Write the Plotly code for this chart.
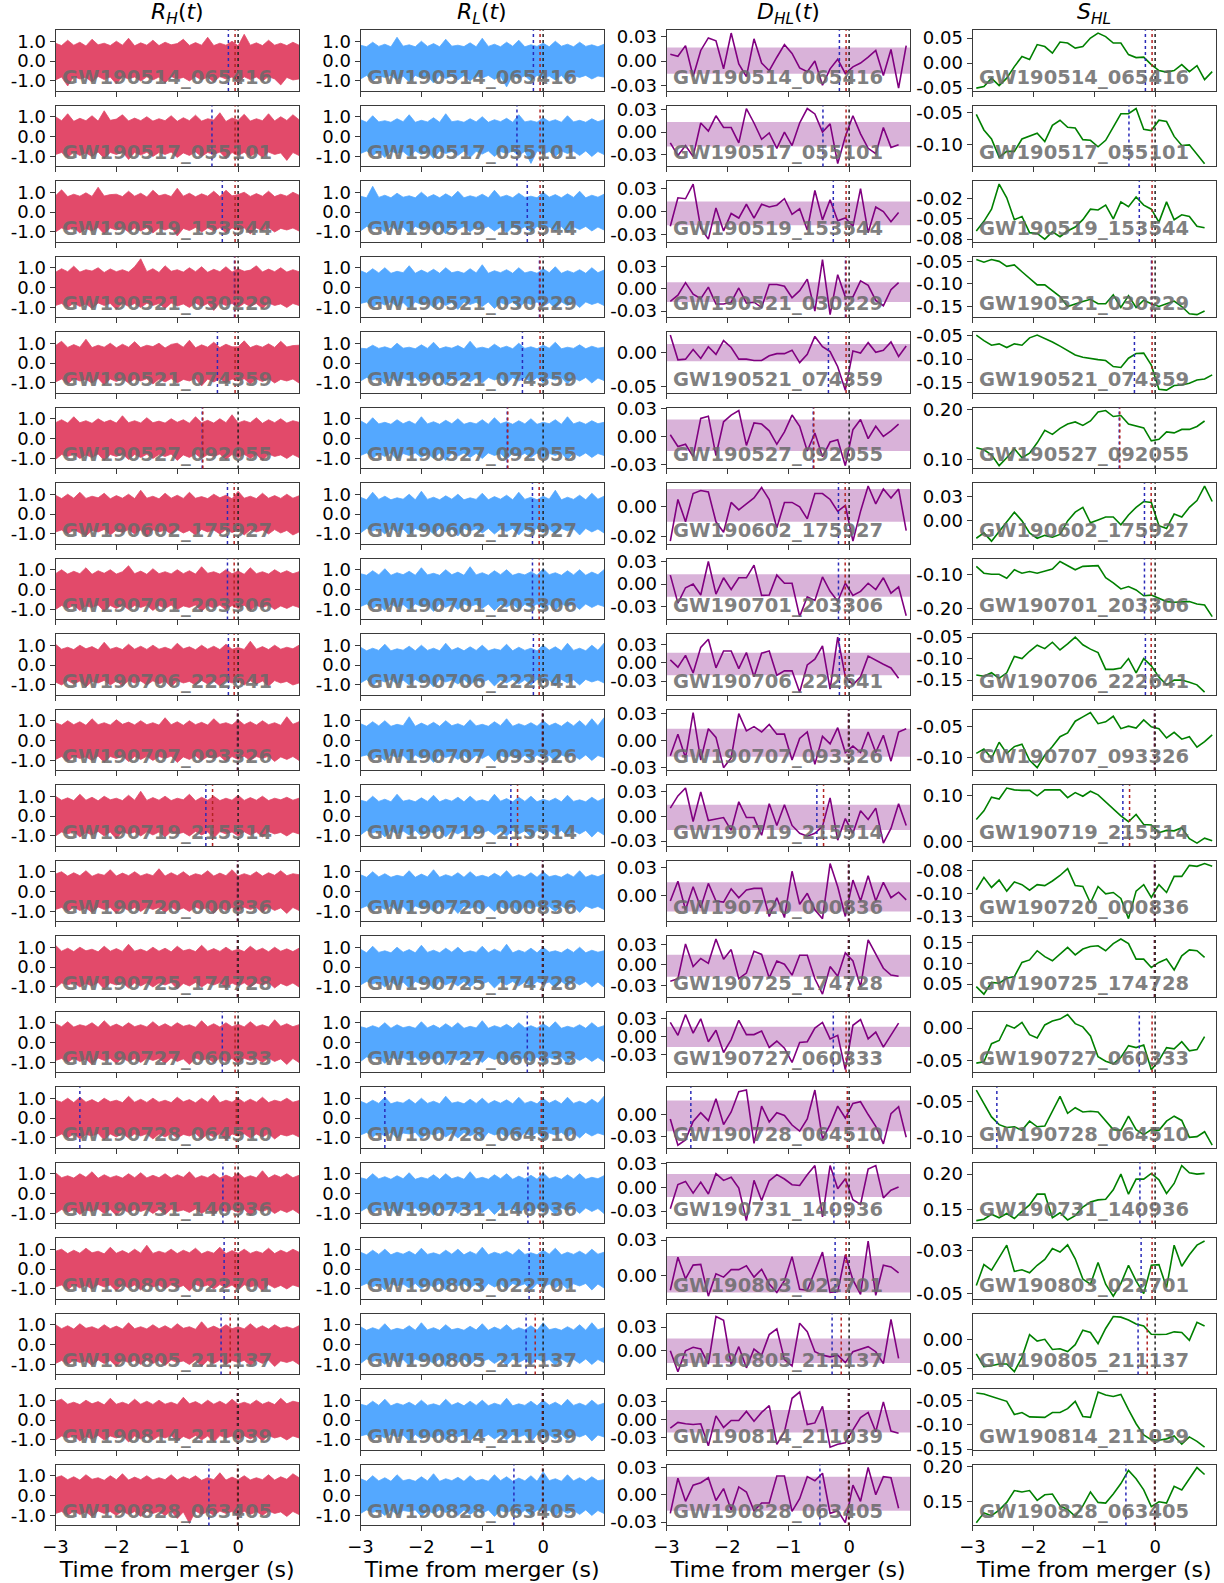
import plotly.graph_objects as go

# ---------------- data ----------------
EVENTS = ["GW190514_065416", "GW190517_055101", "GW190519_153544", "GW190521_030229",
          "GW190521_074359", "GW190527_092055", "GW190602_175927", "GW190701_203306",
          "GW190706_222641", "GW190707_093326", "GW190719_215514", "GW190720_000836",
          "GW190725_174728", "GW190727_060333", "GW190728_064510", "GW190731_140936",
          "GW190803_022701", "GW190805_211137", "GW190814_211039", "GW190828_063405"]

COL_TITLES = ["<i>R</i><sub><i>H</i></sub>(<i>t</i>)", "<i>R</i><sub><i>L</i></sub>(<i>t</i>)",
              "<i>D</i><sub><i>HL</i></sub>(<i>t</i>)", "<i>S</i><sub><i>HL</i></sub>"]
X_TITLE = "Time from merger (s)"
X_TICKS = [-3, -2, -1, 0]

# bin-centre times for D_HL and S_HL
T_BINS = [-2.9375, -2.8125, -2.6875, -2.5625, -2.4375, -2.3125, -2.1875, -2.0625,
          -1.9375, -1.8125, -1.6875, -1.5625, -1.4375, -1.3125, -1.1875, -1.0625,
          -0.9375, -0.8125, -0.6875, -0.5625, -0.4375, -0.3125, -0.1875, -0.0625,
          0.0625, 0.1875, 0.3125, 0.4375, 0.5625, 0.6875, 0.8125, 0.9375]

# marker times (s)
BLUE_T = [-0.16, -0.43, -0.26, -0.06, -0.34, -0.59, -0.175, -0.175, -0.16, -0.01,
          -0.53, -0.01, -0.01, -0.26, -2.6, -0.25, -0.23, -0.28, -0.01, -0.48]
RED_T = [-0.05, -0.05, -0.05, -0.05, -0.05, -0.58, -0.065, -0.065, -0.065, -0.01,
         -0.42, -0.01, -0.01, -0.05, -0.03, -0.05, -0.05, -0.13, -0.01, -0.01]
MERGER_T = 0.0

D_HL = [
    [0.007, 0.005, 0.016, -0.016, 0.011, 0.024, 0.021, -0.008, 0.029, -0.003, -0.016, 0.023, -0.002, -0.010, 0.004, 0.017, 0.008, -0.007, -0.011, 0.000, -0.025, -0.008, 0.002, -0.013, -0.006, -0.002, 0.004, 0.011, -0.015, 0.012, -0.028, 0.016],
    [-0.012, -0.026, -0.015, -0.027, 0.010, 0.001, 0.018, 0.005, 0.005, -0.012, 0.026, 0.010, -0.008, -0.001, -0.018, 0.000, -0.015, 0.010, 0.026, 0.020, 0.000, 0.009, -0.035, -0.005, 0.018, -0.002, -0.018, -0.024, 0.005, -0.017, -0.014],
    [-0.016, 0.015, 0.014, 0.030, -0.018, -0.030, 0.004, -0.021, -0.002, -0.007, 0.008, -0.007, 0.008, 0.005, 0.007, 0.014, -0.003, 0.003, -0.020, 0.023, -0.009, 0.013, -0.010, -0.007, -0.016, 0.025, -0.023, 0.005, 0.000, -0.011, -0.001],
    [-0.014, -0.007, 0.007, -0.006, -0.011, 0.002, -0.017, -0.017, -0.015, 0.001, -0.016, -0.015, -0.021, 0.005, 0.005, 0.003, -0.010, -0.002, 0.011, -0.025, 0.033, -0.029, 0.016, -0.009, -0.009, 0.009, 0.004, -0.013, -0.019, -0.001, 0.007],
    [0.025, -0.011, -0.010, 0.004, -0.009, 0.008, -0.003, 0.017, 0.007, -0.010, -0.010, -0.012, -0.012, -0.005, -0.002, -0.002, 0.003, -0.015, -0.003, 0.023, 0.008, 0.001, -0.021, -0.055, 0.002, -0.001, 0.014, 0.000, 0.003, 0.015, -0.006, 0.009],
    [0.0015, -0.009, -0.007, -0.018, 0.016, 0.018, -0.017, 0.013, 0.019, 0.023, -0.008, 0.012, 0.011, 0.005, -0.007, 0.004, 0.019, 0.009, -0.013, 0.003, -0.018, -0.005, -0.003, -0.026, 0.006, 0.015, -0.002, 0.009, 0.000, 0.005, 0.011],
    [-0.023, 0.005, -0.010, 0.009, 0.011, 0.010, -0.010, -0.017, 0.003, -0.002, 0.002, 0.006, 0.013, 0.005, -0.014, 0.003, 0.003, 0.000, -0.008, 0.009, 0.009, 0.005, -0.003, 0.001, -0.023, -0.003, 0.014, 0.002, 0.012, 0.006, 0.012, -0.016],
    [0.010, -0.021, -0.004, 0.000, -0.012, 0.025, -0.011, 0.007, -0.006, 0.007, 0.007, 0.021, -0.0125, -0.012, 0.010, 0.001, 0.001, -0.036, -0.014, -0.018, 0.008, -0.008, -0.019, 0.001, -0.0125, -0.008, 0.001, -0.006, 0.007, -0.010, -0.003, -0.035],
    [0.004, -0.006, 0.010, -0.014, 0.021, 0.032, -0.007, 0.016, 0.016, -0.008, 0.014, -0.019, 0.013, 0.016, -0.017, -0.011, -0.011, -0.040, -0.003, 0.005, 0.023, -0.036, 0.035, -0.019, -0.030, -0.019, 0.009, 0.003, -0.002, -0.007, -0.021],
    [-0.014, 0.006, -0.016, 0.026, -0.018, 0.011, 0.003, -0.025, -0.016, 0.025, 0.009, 0.013, 0.008, 0.015, 0.006, 0.006, -0.018, 0.002, 0.008, -0.022, 0.004, -0.003, 0.012, -0.011, -0.005, -0.011, 0.008, -0.011, 0.005, -0.019, 0.008, 0.011],
    [0.0086, 0.021, 0.029, -0.005, 0.025, -0.004, -0.0024, -0.001, -0.014, 0.015, -0.001, -0.001, -0.019, 0.013, -0.009, 0.012, -0.009, -0.017, -0.020, -0.017, -0.010, 0.019, -0.024, -0.002, -0.017, 0.006, -0.003, 0.0086, -0.027, -0.012, 0.013, -0.009],
    [-0.005, 0.013, -0.013, 0.008, -0.011, 0.011, -0.005, -0.006, 0.006, -0.002, 0.005, 0.0065, 0.0065, -0.019, -0.002, -0.020, 0.022, -0.008, 0.002, -0.013, -0.021, 0.029, 0.008, -0.019, 0.014, -0.005, 0.018, -0.005, 0.012, -0.002, 0.003, -0.004],
    [-0.020, -0.017, 0.026, -0.002, 0.008, 0.002, 0.032, 0.007, 0.019, -0.017, -0.010, 0.017, 0.013, -0.016, 0.005, 0.001, -0.0125, 0.012, 0.012, -0.017, -0.036, -0.002, -0.014, 0.015, 0.005, -0.027, 0.031, 0.014, -0.004, -0.0125, -0.014],
    [0.020, 0.002, 0.031, 0.005, 0.025, -0.007, 0.009, -0.022, -0.004, 0.023, 0.003, 0.003, 0.008, -0.015, -0.006, -0.016, -0.036, -0.008, -0.007, 0.012, 0.020, -0.003, 0.002, -0.046, 0.016, 0.024, -0.003, 0.0065, -0.0145, 0.002, 0.019],
    [-0.005, -0.035, -0.029, -0.008, 0.002, -0.007, 0.018, -0.0115, 0.003, 0.026, 0.028, -0.033, 0.0096, -0.0085, 0.002, -0.001, -0.012, -0.019, -0.005, 0.028, -0.028, -0.0115, 0.0096, -0.004, 0.0127, 0.0146, 0.000, -0.0135, -0.0335, 0.001, 0.009, -0.026],
    [-0.0225, 0.003, 0.0063, -0.006, 0.0056, -0.007, 0.0144, 0.0074, 0.0106, -0.0007, -0.035, 0.0074, -0.0137, 0.007, 0.0134, 0.0088, 0.0028, 0.002, 0.0134, 0.023, -0.031, 0.023, -0.0014, 0.0092, -0.013, -0.018, 0.0194, 0.023, -0.011, -0.003, 0.0004],
    [-0.0104, 0.0129, -0.0024, 0.0073, 0.0078, -0.0146, 0.0012, -0.0012, 0.0041, 0.0041, 0.0068, -0.0012, 0.0044, -0.006, -0.012, -0.0036, 0.0133, -0.0097, -0.0104, 0.0032, 0.0165, -0.012, -0.0114, 0.0146, -0.0032, -0.0133, 0.0243, -0.014, 0.0073, 0.006, 0.0019],
    [0.000, -0.022, 0.000, 0.0036, 0.0018, -0.014, 0.036, 0.032, -0.015, 0.0043, -0.018, 0.0018, -0.0046, 0.017, 0.023, -0.0093, -0.016, 0.029, 0.020, -0.001, -0.0046, -0.0064, -0.0046, -0.0125, -0.001, 0.0014, 0.0043, -0.001, -0.0136, 0.033, -0.008],
    [-0.012, -0.004, -0.006, -0.007, -0.006, -0.036, 0.0048, -0.011, -0.0014, -0.0014, 0.011, -0.0024, 0.0096, 0.019, -0.034, -0.017, 0.029, 0.0375, -0.007, -0.0048, 0.018, -0.038, -0.034, -0.032, -0.0144, 0.0024, 0.0096, -0.017, 0.024, -0.016, -0.019],
    [-0.017, 0.015, -0.006, 0.0087, 0.011, 0.0155, -0.0053, 0.0056, -0.014, 0.0071, 0.0025, -0.0146, -0.0075, -0.0075, 0.0171, 0.0171, -0.0152, -0.0037, 0.0165, 0.0127, 0.0196, -0.017, -0.0146, -0.0255, 0.0087, -0.006, 0.0248, 0.000, 0.0165, 0.0155, -0.0124],
]

BAND_HI = [0.014, 0.011, 0.011, 0.0074, 0.012, 0.015, 0.012, 0.011, 0.0135, 0.011,
           0.012, 0.012, 0.0125, 0.014, 0.016, 0.014, 0.0138, 0.013, 0.013, 0.0165]
BAND_LO = [-0.013, -0.016, -0.015, -0.0148, -0.013, -0.013, -0.010, -0.014, -0.017, -0.015,
           -0.0137, -0.0145, -0.0146, -0.0145, -0.019, -0.010, -0.012, -0.013, -0.0178, -0.0146]

S_HL = [
    [-0.050, -0.047, -0.030, -0.045, -0.030, -0.007, 0.013, 0.007, 0.037, 0.033, 0.020, 0.042, 0.040, 0.030, 0.033, 0.050, 0.060, 0.053, 0.040, 0.040, 0.017, 0.011, 0.012, -0.003, -0.015, -0.018, -0.015, -0.003, -0.017, -0.005, -0.033, -0.017],
    [-0.053, -0.077, -0.091, -0.119, -0.110, -0.110, -0.091, -0.087, -0.082, -0.095, -0.070, -0.062, -0.073, -0.074, -0.092, -0.093, -0.103, -0.093, -0.072, -0.052, -0.052, -0.044, -0.076, -0.078, -0.062, -0.064, -0.087, -0.101, -0.100, -0.114, -0.129],
    [-0.065, -0.053, -0.038, -0.007, -0.024, -0.051, -0.047, -0.067, -0.068, -0.075, -0.066, -0.072, -0.065, -0.060, -0.051, -0.038, -0.039, -0.033, -0.050, -0.029, -0.035, -0.023, -0.033, -0.038, -0.054, -0.029, -0.051, -0.045, -0.047, -0.059, -0.061],
    [-0.046, -0.052, -0.046, -0.050, -0.061, -0.058, -0.073, -0.087, -0.102, -0.102, -0.115, -0.128, -0.150, -0.144, -0.139, -0.134, -0.144, -0.144, -0.124, -0.152, -0.126, -0.152, -0.136, -0.144, -0.150, -0.144, -0.138, -0.150, -0.166, -0.168, -0.160],
    [-0.048, -0.060, -0.070, -0.067, -0.075, -0.067, -0.070, -0.054, -0.048, -0.055, -0.063, -0.072, -0.081, -0.091, -0.096, -0.099, -0.101, -0.103, -0.116, -0.118, -0.098, -0.088, -0.087, -0.113, -0.165, -0.167, -0.157, -0.156, -0.152, -0.145, -0.143, -0.134],
    [0.123, 0.119, 0.109, 0.087, 0.103, 0.121, 0.103, 0.112, 0.133, 0.158, 0.150, 0.162, 0.171, 0.175, 0.168, 0.177, 0.195, 0.198, 0.186, 0.188, 0.171, 0.167, 0.163, 0.137, 0.140, 0.155, 0.153, 0.160, 0.160, 0.166, 0.177],
    [-0.018, -0.0125, -0.021, -0.011, -0.002, 0.009, 0.000, -0.0125, -0.018, -0.015, -0.017, -0.014, 0.000, 0.009, 0.014, -0.002, 0.001, 0.004, 0.004, -0.004, 0.006, 0.014, 0.020, 0.019, -0.005, -0.008, 0.007, 0.004, 0.014, 0.021, 0.036, 0.020],
    [-0.077, -0.097, -0.100, -0.100, -0.112, -0.087, -0.097, -0.092, -0.097, -0.090, -0.085, -0.063, -0.075, -0.087, -0.077, -0.077, -0.075, -0.110, -0.125, -0.143, -0.136, -0.146, -0.163, -0.161, -0.171, -0.180, -0.182, -0.182, -0.180, -0.187, -0.190, -0.224],
    [-0.138, -0.141, -0.133, -0.146, -0.133, -0.095, -0.100, -0.083, -0.069, -0.077, -0.062, -0.080, -0.066, -0.050, -0.068, -0.078, -0.086, -0.125, -0.125, -0.122, -0.100, -0.133, -0.100, -0.117, -0.143, -0.161, -0.150, -0.150, -0.155, -0.161, -0.178],
    [-0.093, -0.086, -0.101, -0.075, -0.093, -0.082, -0.078, -0.104, -0.116, -0.096, -0.082, -0.066, -0.060, -0.041, -0.034, -0.027, -0.045, -0.042, -0.033, -0.053, -0.049, -0.052, -0.039, -0.050, -0.053, -0.068, -0.059, -0.070, -0.066, -0.083, -0.074, -0.063],
    [0.048, 0.067, 0.097, 0.093, 0.117, 0.113, 0.112, 0.112, 0.100, 0.113, 0.113, 0.113, 0.096, 0.107, 0.099, 0.110, 0.102, 0.087, 0.070, 0.056, 0.043, 0.059, 0.037, 0.036, 0.019, 0.024, 0.023, 0.030, 0.006, -0.004, 0.007, 0.001],
    [-0.0955, -0.082, -0.093, -0.085, -0.097, -0.087, -0.090, -0.096, -0.090, -0.091, -0.086, -0.080, -0.0725, -0.091, -0.092, -0.110, -0.092, -0.100, -0.0985, -0.105, -0.127, -0.097, -0.090, -0.104, -0.090, -0.0985, -0.081, -0.081, -0.069, -0.070, -0.067, -0.070],
    [0.044, 0.026, 0.054, 0.052, 0.064, 0.068, 0.102, 0.108, 0.130, 0.116, 0.106, 0.122, 0.138, 0.120, 0.134, 0.140, 0.142, 0.130, 0.147, 0.158, 0.147, 0.110, 0.110, 0.090, 0.102, 0.110, 0.084, 0.118, 0.132, 0.130, 0.114],
    [-0.054, -0.052, -0.024, -0.019, 0.005, 0.000, 0.009, -0.010, -0.015, 0.005, 0.011, 0.014, 0.021, 0.007, 0.002, -0.012, -0.044, -0.051, -0.055, -0.045, -0.027, -0.030, -0.026, -0.064, -0.050, -0.030, -0.032, -0.021, -0.035, -0.033, -0.013],
    [-0.034, -0.053, -0.072, -0.083, -0.087, -0.086, -0.091, -0.078, -0.086, -0.085, -0.065, -0.043, -0.067, -0.059, -0.065, -0.064, -0.065, -0.077, -0.090, -0.091, -0.071, -0.090, -0.097, -0.090, -0.091, -0.078, -0.071, -0.077, -0.101, -0.100, -0.093, -0.112],
    [0.135, 0.137, 0.144, 0.139, 0.145, 0.138, 0.148, 0.157, 0.172, 0.172, 0.139, 0.146, 0.136, 0.142, 0.154, 0.161, 0.164, 0.165, 0.178, 0.200, 0.172, 0.193, 0.193, 0.201, 0.192, 0.173, 0.187, 0.212, 0.202, 0.200, 0.201],
    [-0.0453, -0.033, -0.0362, -0.0286, -0.0216, -0.037, -0.036, -0.0378, -0.0334, -0.030, -0.0236, -0.0256, -0.0214, -0.0296, -0.0415, -0.0445, -0.0318, -0.0445, -0.0515, -0.0441, -0.0334, -0.0425, -0.050, -0.0334, -0.033, -0.0465, -0.0216, -0.034, -0.0272, -0.0216, -0.0192],
    [-0.025, -0.047, -0.0453, -0.0424, -0.0424, -0.0555, -0.031, 0.0081, -0.003, 0.000, -0.0174, -0.0163, -0.021, -0.0093, 0.0157, 0.0116, -0.0076, 0.0186, 0.039, 0.038, 0.0331, 0.0262, 0.0227, 0.0087, 0.0081, 0.0087, 0.0128, 0.0116, -0.0017, 0.029, 0.0227],
    [-0.035, -0.037, -0.042, -0.047, -0.052, -0.079, -0.075, -0.084, -0.085, -0.085, -0.075, -0.075, -0.067, -0.052, -0.083, -0.085, -0.033, -0.039, -0.042, -0.038, -0.069, -0.098, -0.121, -0.131, -0.132, -0.129, -0.123, -0.140, -0.125, -0.134, -0.146],
    [0.120, 0.134, 0.130, 0.138, 0.149, 0.166, 0.164, 0.166, 0.152, 0.160, 0.161, 0.144, 0.139, 0.129, 0.144, 0.164, 0.149, 0.148, 0.161, 0.176, 0.195, 0.183, 0.167, 0.143, 0.150, 0.148, 0.172, 0.167, 0.183, 0.199, 0.189],
]

# y tick positions and their printed labels
NOISE_TICKS = [1.0, 0.0, -1.0]
NOISE_TICKTEXT = ["1.0", "0.0", "-1.0"]
D_TICKS = [[0.025, 0, -0.025]] * 4 + [[0, -0.05], [0.025, 0, -0.025], [0, -0.02]] + \
          [[0.025, 0, -0.025]] * 4 + [[0.025, 0], [0.025, 0, -0.025], [0.025, 0, -0.025],
                                      [0, -0.025], [0.025, 0, -0.025], [0.025, 0], [0.025, 0],
                                      [0.025, 0, -0.025], [0.025, 0, -0.025]]
D_TICKTEXT = [["0.03", "0.00", "-0.03"]] * 4 + [["0.00", "-0.05"], ["0.03", "0.00", "-0.03"], ["0.00", "-0.02"]] + \
             [["0.03", "0.00", "-0.03"]] * 4 + [["0.03", "0.00"], ["0.03", "0.00", "-0.03"], ["0.03", "0.00", "-0.03"],
                                                ["0.00", "-0.03"], ["0.03", "0.00", "-0.03"], ["0.03", "0.00"], ["0.03", "0.00"],
                                                ["0.03", "0.00", "-0.03"], ["0.03", "0.00", "-0.03"]]
S_TICKS = [[0.05, 0, -0.05], [-0.05, -0.10], [-0.025, -0.05, -0.075], [-0.05, -0.10, -0.15],
           [-0.05, -0.10, -0.15], [0.20, 0.10], [0.025, 0], [-0.10, -0.20], [-0.05, -0.10, -0.15],
           [-0.05, -0.10], [0.10, 0.0], [-0.075, -0.10, -0.125], [0.15, 0.10, 0.05], [0, -0.05],
           [-0.05, -0.10], [0.20, 0.15], [-0.025, -0.05], [0, -0.05], [-0.05, -0.10, -0.15], [0.20, 0.15]]
S_TICKTEXT = [["0.05", "0.00", "-0.05"], ["-0.05", "-0.10"], ["-0.02", "-0.05", "-0.08"], ["-0.05", "-0.10", "-0.15"],
              ["-0.05", "-0.10", "-0.15"], ["0.20", "0.10"], ["0.03", "0.00"], ["-0.10", "-0.20"], ["-0.05", "-0.10", "-0.15"],
              ["-0.05", "-0.10"], ["0.10", "0.00"], ["-0.08", "-0.10", "-0.13"], ["0.15", "0.10", "0.05"], ["0.00", "-0.05"],
              ["-0.05", "-0.10"], ["0.20", "0.15"], ["-0.03", "-0.05"], ["0.00", "-0.05"], ["-0.05", "-0.10", "-0.15"], ["0.20", "0.15"]]

# whitened-strain envelopes (upper / lower edge of the dense trace), sampled every 0.1 s
ENV_T = [-3.0, -2.9, -2.8, -2.7, -2.6, -2.5, -2.4, -2.3, -2.2, -2.1, -2.0, -1.9, -1.8, -1.7,
         -1.6, -1.5, -1.4, -1.3, -1.2, -1.1, -1.0, -0.9, -0.8, -0.7, -0.6, -0.5, -0.4, -0.3,
         -0.2, -0.1, 0.0, 0.1, 0.2, 0.3, 0.4, 0.5, 0.6, 0.7, 0.8, 0.9, 1.0]

RH_UP = [
    [.9, .78, 1.05, .8, .95, .76, 1.1, .82, .9, .78, 1.0, .8, 1.15, .77, .92, .8, 1.05, .78, .95, .82, .88, 1.1, .79, .93, .8, 1.2, .78, .9, .8, 1.0, .77, 1.35, .8, .92, .78, 1.05, .8, .9, .78, .95, .8],
    [1.0, .8, 1.15, .77, .92, .8, 1.05, .78, 1.3, .82, .88, 1.1, .79, .93, .8, 1.0, .78, .9, .8, 1.05, .77, .95, .8, 1.08, .78, .9, .83, 1.2, .76, .94, .82, 1.12, .78, .9, .8, 1.15, .79, 1.0, .81, 1.1, .85],
    [.82, 1.12, .78, .9, .8, .97, .79, 1.25, .81, .88, .9, .78, 1.05, .8, .95, .76, 1.1, .82, .9, .78, 1.2, .8, .95, .77, .92, .8, 1.05, .78, 1.1, .82, .88, 1.0, .79, .93, .8, 1.05, .78, .9, .8, 1.0, .85],
    [.77, .95, .8, 1.08, .78, .9, .83, 1.0, .76, .94, .8, .9, .78, 1.05, 1.45, .8, .95, .76, 1.1, .82, .9, .78, 1.0, .8, 1.05, .77, .92, .8, 1.05, .78, .95, .82, .88, 1.1, .79, .93, .8, 1.0, .78, .9, .8],
    [.88, 1.1, .79, .93, .8, 1.2, .78, .9, .8, 1.0, .77, .95, .8, 1.08, .78, .9, .83, 1.0, .76, .94, 1.0, .8, 1.15, .77, .92, .8, 1.05, .78, .95, .82, .82, 1.12, .78, .9, .8, .97, .79, 1.1, .81, .88, .9],
    [.8, .95, .78, 1.1, .8, .9, .77, 1.0, .82, .93, .78, 1.15, .8, .9, .79, 1.05, .8, .88, .78, 1.0, .82, .95, .77, 1.1, .8, .92, .78, 1.0, .8, 1.2, .79, .9, .8, 1.05, .77, .95, .8, 1.0, .78, .9, .82],
    [.95, .78, 1.0, .8, 1.1, .79, .9, .82, 1.05, .77, .93, .8, 1.0, .78, 1.2, .8, .9, .77, 1.05, .8, .95, .79, 1.1, .8, .88, .78, 1.0, .82, .95, .77, 1.15, .8, .9, .78, 1.05, .8, .93, .79, 1.0, .8, .92],
    [.8, 1.0, .78, .92, .8, 1.1, .77, .95, .82, 1.0, .78, .9, 1.2, .8, .93, .77, 1.05, .8, .9, .79, 1.0, .8, .95, .78, 1.15, .82, .9, .78, 1.0, .8, .93, .77, 1.1, .8, .9, .78, 1.0, .82, .95, .8, .9],
    [1.05, .8, .9, .78, 1.0, .82, .93, .77, 1.15, .8, .9, .78, 1.05, .8, .95, .79, 1.0, .8, .9, .78, 1.1, .82, .92, .77, 1.0, .8, .95, .78, 1.05, .8, .88, .79, 1.2, .8, .93, .78, 1.0, .8, .9, .82, 1.0],
    [.9, .78, 1.0, .8, .95, .77, 1.1, .8, .9, .78, 1.05, .82, .93, .79, 1.0, .8, .9, .78, 1.15, .8, .95, .77, 1.0, .8, .92, .78, 1.1, .82, .9, .79, 1.05, .8, .95, .78, 1.0, .8, .9, .77, 1.2, .82, .95],
    [1.0, .8, .92, .78, 1.1, .8, .95, .77, 1.0, .82, .9, .78, 1.05, .8, 1.25, .79, .93, .8, 1.0, .78, .9, .82, 1.1, .77, .95, .8, 1.0, .78, .9, .8, 1.05, .79, .93, .8, 1.0, .78, .9, .82, .95, .8, .9],
    [.88, 1.0, .78, .95, .8, 1.05, .77, .9, .82, 1.1, .78, .93, .8, 1.0, .79, .9, .8, 1.15, .78, .95, .8, 1.0, .77, .9, .82, 1.05, .78, .93, .8, 1.1, .79, .9, .8, 1.0, .78, .95, .82, 1.05, .8, .9, .85],
    [1.1, .8, .95, .78, 1.0, .82, .9, .77, 1.05, .8, .93, .79, 1.15, .8, .9, .78, 1.0, .8, .95, .77, 1.05, .82, .9, .78, 1.1, .8, .93, .79, 1.0, .8, .9, .78, 1.05, .82, .95, .77, 1.0, .8, .92, .78, .95],
    [.95, .8, 1.05, .78, .9, .82, 1.0, .77, 1.1, .8, .93, .78, 1.0, .8, .9, .79, 1.05, .8, .95, .78, 1.0, .82, .9, .77, 1.1, .8, .95, .78, 1.0, .8, .92, .79, 1.05, .8, .9, .78, 1.15, .82, .95, .8, .9],
    [.9, .8, 1.0, .78, 1.05, .8, .93, .77, 1.0, .82, .9, .78, 1.1, .8, .95, .79, 1.0, .8, .9, .78, 1.05, .82, .93, .77, 1.0, .8, 1.15, .78, .9, .8, 1.0, .79, .95, .8, 1.05, .78, .9, .82, 1.0, .8, .88],
    [1.05, .8, .9, .78, 1.0, .82, 1.1, .77, .95, .8, .9, .78, 1.0, .8, 1.05, .79, .92, .8, 1.0, .78, .95, .82, 1.1, .77, .9, .8, 1.0, .78, .93, .8, 1.05, .79, .9, .8, 1.15, .78, .95, .82, 1.0, .8, .92],
    [.9, 1.0, .78, .95, .8, 1.05, .82, .9, .77, 1.1, .8, .93, .78, 1.0, .8, 1.2, .79, .9, .8, 1.0, .78, .95, .82, 1.05, .77, .9, .8, 1.1, .78, .93, .8, 1.0, .79, .9, .8, 1.05, .78, .95, .82, 1.0, .85],
    [1.0, .8, .95, .78, 1.05, .82, .9, .77, 1.0, .8, .93, .78, 1.1, .8, .9, .79, 1.0, .8, .95, .78, 1.05, .82, .9, .77, 1.15, .8, .93, .78, 1.0, .8, .9, .79, 1.05, .8, .95, .78, 1.0, .82, .9, .8, .95],
    [.95, 1.05, .8, .9, .78, 1.0, .82, .93, .77, 1.1, .8, .9, .78, 1.05, .8, .95, .79, 1.0, .8, .9, .78, 1.15, .82, .93, .77, 1.0, .8, .95, .78, 1.05, .8, .9, .79, 1.0, .8, .92, .78, 1.1, .82, .95, .88],
    [.9, 1.0, .8, .95, .78, 1.05, .82, .9, .77, 1.0, .8, 1.1, .78, .93, .8, 1.0, .79, .9, .8, 1.05, .78, .95, .82, 1.0, .77, .9, .8, 1.15, .78, .93, .8, 1.0, .79, .9, .8, 1.05, .78, .95, .82, 1.1, .9],
]
RH_LO = [
    [-.95, -.8, -1.25, -.78, -.9, -.82, -1.05, -.77, -.93, -.8, -1.15, -.78, -.9, -.8, -1.0, -.79, -.95, -.8, -1.1, -.78, -.9, -.82, -1.0, -.77, -.95, -.8, -1.05, -.78, -.9, -.8, -1.1, -.79, -.93, -.8, -1.0, -.78, -.9, -1.2, -.82, -.95, -.9],
    [-.9, -.8, -1.05, -.78, -.95, -.82, -1.0, -.77, -1.1, -.8, -.9, -.78, -1.15, -.8, -.93, -.79, -1.0, -.8, -.9, -.78, -1.05, -.82, -.95, -.77, -1.0, -.8, -.9, -.78, -1.1, -.8, -.95, -.79, -1.0, -.8, -1.05, -.78, -.9, -.82, -1.2, -.8, -.95],
    [-1.0, -.8, -.9, -.78, -1.05, -.82, -.95, -.77, -1.1, -.8, -.9, -.78, -1.0, -.8, -.95, -.79, -1.05, -.8, -.9, -.78, -1.2, -.82, -.93, -.77, -1.0, -.8, -.95, -.78, -1.05, -.8, -.9, -.79, -1.1, -.8, -.93, -.78, -1.0, -.82, -.9, -.8, -.95],
    [-.9, -.8, -1.0, -.78, -.95, -.82, -1.05, -.77, -.9, -.8, -1.1, -.78, -.95, -.8, -1.0, -.79, -.9, -.8, -1.05, -.78, -.93, -.82, -1.0, -.77, -.95, -.8, -1.15, -.78, -.9, -.8, -1.0, -.79, -.95, -.8, -1.05, -.78, -.9, -.82, -1.0, -.8, -.9],
    [-.95, -.8, -1.05, -.78, -.9, -.82, -1.0, -.77, -1.1, -.8, -.93, -.78, -1.0, -.8, -.9, -.79, -1.05, -.8, -.95, -.78, -1.0, -.82, -.9, -.77, -1.15, -.8, -.95, -.78, -1.0, -.8, -.9, -.79, -1.05, -.8, -.93, -.78, -1.0, -.82, -.9, -.8, -1.0],
    [-1.05, -.8, -.9, -.78, -1.0, -.82, -.95, -.77, -1.1, -.8, -.9, -.78, -1.05, -.8, -.95, -.79, -1.0, -.8, -.9, -.78, -1.1, -.82, -.95, -.77, -1.0, -.8, -.9, -.78, -1.05, -.8, -.95, -.79, -1.0, -.8, -1.1, -.78, -.9, -.82, -1.0, -.8, -.95],
    [-.9, -.8, -1.0, -.78, -.95, -1.1, -.82, -.9, -.77, -1.05, -.8, -.93, -.78, -1.0, -.8, -1.15, -.79, -.9, -.8, -1.0, -.78, -.95, -.82, -1.05, -.77, -.9, -.8, -1.0, -.78, -.93, -.8, -1.05, -.79, -.9, -.8, -1.0, -.78, -.95, -.82, -1.05, -.9],
    [-1.0, -.8, -.95, -.78, -1.05, -.82, -.9, -.77, -1.1, -.8, -.95, -.78, -1.0, -.8, -.9, -.79, -1.05, -.8, -.95, -.78, -1.0, -.82, -.9, -.77, -1.1, -.8, -.93, -.78, -1.0, -.8, -.95, -.79, -1.05, -.8, -.9, -.78, -1.0, -.82, -.95, -.8, -.9],
    [-.85, -1.0, -.78, -.95, -.8, -1.1, -.82, -.9, -.77, -1.0, -.8, -1.05, -.78, -.9, -.8, -1.0, -.79, -.95, -.8, -1.1, -.78, -.9, -.82, -1.0, -.77, -.95, -.8, -1.05, -.78, -.9, -.8, -1.0, -.79, -.95, -.8, -1.05, -.78, -.9, -.82, -1.0, -.9],
    [-.95, -.8, -1.05, -.78, -.9, -.82, -1.0, -.77, -1.1, -.8, -.9, -.78, -1.05, -.8, -.95, -.79, -1.0, -.8, -.9, -.78, -1.1, -.82, -.95, -.77, -1.0, -.8, -.9, -.78, -1.05, -.8, -.95, -.79, -1.0, -.8, -.9, -.78, -1.05, -.82, -.95, -.8, -1.0],
    [-1.0, -.8, -.9, -.78, -1.05, -.82, -.95, -.77, -1.0, -.8, -1.15, -.78, -.9, -.8, -1.0, -.79, -.95, -.8, -1.05, -.78, -.9, -.82, -1.0, -.77, -.95, -.8, -1.1, -.78, -.9, -.8, -1.0, -.79, -.95, -.8, -1.05, -.78, -.9, -.82, -1.0, -.8, -.9],
    [-.9, -.8, -1.0, -.78, -.95, -.82, -1.05, -.77, -.9, -.8, -1.1, -.78, -.95, -.8, -1.0, -.79, -.9, -.8, -1.05, -.78, -.95, -.82, -1.0, -.77, -.9, -.8, -1.1, -.78, -.95, -.8, -1.0, -.79, -.9, -.8, -1.05, -.78, -.95, -.82, -1.1, -.8, -.95],
    [-1.05, -.8, -.9, -.78, -1.0, -.82, -.95, -.77, -1.1, -.8, -.9, -.78, -1.05, -.8, -.95, -.79, -1.0, -.8, -.9, -.78, -1.1, -.82, -.95, -.77, -1.0, -.8, -.9, -.78, -1.05, -.8, -.95, -.79, -1.0, -.8, -.9, -.78, -1.05, -.82, -.95, -.8, -1.0],
    [-.9, -.8, -1.0, -.78, -.95, -.82, -1.1, -.77, -.9, -.8, -1.05, -.78, -.95, -.8, -1.0, -.79, -.9, -.8, -1.05, -.78, -.95, -.82, -1.1, -.77, -.9, -.8, -1.0, -.78, -.95, -.8, -1.05, -.79, -.9, -.8, -1.0, -.78, -.95, -.82, -1.1, -.8, -1.0],
    [-.95, -.8, -1.0, -.78, -1.05, -.82, -.9, -.77, -1.1, -.8, -.95, -.78, -1.0, -.8, -.9, -.79, -1.05, -.8, -.95, -.78, -1.0, -.82, -.9, -.77, -1.05, -.8, -.95, -.78, -1.1, -.8, -.9, -.79, -1.0, -.8, -.95, -.78, -1.05, -.82, -.9, -.8, -.95],
    [-1.0, -.8, -.95, -.78, -1.05, -.82, -.9, -.77, -1.0, -.8, -1.1, -.78, -.95, -.8, -.9, -.79, -1.0, -.8, -1.05, -.78, -.9, -.82, -.95, -.77, -1.0, -.8, -1.05, -.78, -.9, -.8, -.95, -.79, -1.1, -.8, -.9, -.78, -1.0, -.82, -.95, -.8, -1.0],
    [-.9, -.8, -1.05, -.78, -.95, -.82, -1.0, -.77, -.9, -.8, -1.1, -.78, -.95, -.8, -1.05, -.79, -.9, -.8, -1.0, -.78, -.95, -.82, -1.1, -.77, -.9, -.8, -1.0, -.78, -.95, -.8, -1.05, -.79, -.9, -.8, -1.1, -.78, -.95, -.82, -1.0, -.8, -.9],
    [-.95, -.8, -1.0, -.78, -.9, -.82, -1.05, -.77, -.95, -.8, -1.1, -.78, -.9, -.8, -1.0, -.79, -.95, -.8, -1.05, -.78, -.9, -.82, -1.0, -.77, -1.1, -.8, -.95, -.78, -1.0, -.8, -.9, -.79, -1.05, -.8, -.95, -.78, -1.1, -.82, -.9, -.8, -1.0],
    [-1.0, -.8, -.9, -.78, -1.05, -.82, -.95, -.77, -1.0, -.8, -.9, -.78, -1.1, -.8, -.95, -.79, -1.0, -.8, -.9, -.78, -1.05, -.82, -.95, -.77, -1.0, -.8, -1.1, -.78, -.9, -.8, -1.0, -.79, -.95, -.8, -1.05, -.78, -.9, -.82, -1.0, -.8, -.9],
    [-.9, -.8, -1.0, -.78, -.95, -.82, -1.05, -.77, -.9, -.8, -1.0, -.78, -.95, -.8, -1.05, -.79, -.9, -.8, -1.0, -.78, -1.15, -.82, -1.4, -.77, -.95, -.8, -1.0, -.78, -.9, -.8, -1.05, -.79, -.95, -.8, -1.0, -.78, -.9, -.82, -1.05, -.8, -.95],
]
RL_UP = [
    [.8, .72, .95, .74, .85, .72, 1.2, .75, .82, .72, 1.0, .74, .88, .72, 1.1, .75, .8, .73, .92, .72, 1.15, .74, .85, .72, .95, .75, 1.05, .72, .82, .74, .9, .72, 1.0, .75, .85, .72, .95, .74, .82, .72, .85],
    [.85, .72, 1.05, .74, .8, .72, .9, .75, 1.1, .72, .82, .74, .95, .72, 1.15, .75, .8, .72, .9, .74, 1.0, .72, .85, .75, .92, .72, 1.1, .74, .8, .72, .95, .75, .85, .72, 1.05, .74, .82, .72, .9, .75, .85],
    [.8, .72, 1.3, .74, .85, .72, .95, .75, .82, .72, 1.0, .74, .88, .72, .92, .75, 1.05, .72, .82, .74, .9, .72, 1.1, .75, .85, .72, .95, .74, .8, .72, 1.0, .75, .88, .72, .92, .74, 1.05, .72, .85, .75, .9],
    [.85, .72, .95, .74, 1.0, .72, .82, .75, 1.1, .72, .88, .74, .92, .72, 1.0, .75, .82, .72, .95, .74, 1.15, .72, .85, .75, .9, .72, 1.0, .74, .82, .72, .95, .75, 1.05, .72, .85, .74, .9, .72, 1.0, .75, .88],
    [.75, .72, .9, .74, .82, .72, 1.0, .75, .8, .72, .92, .74, 1.05, .72, .82, .75, .88, .72, 1.1, .74, .8, .72, .95, .75, .85, .72, 1.0, .74, .82, .72, .9, .75, 1.05, .72, .8, .74, .92, .72, .85, .75, .8],
    [.9, .72, 1.05, .74, .82, .72, .95, .75, .88, .72, 1.1, .74, .85, .72, .92, .75, 1.0, .72, .82, .74, .95, .72, 1.05, .75, .85, .72, .9, .74, 1.0, .72, .82, .75, .95, .72, 1.1, .74, .85, .72, .9, .75, .82],
    [.85, .72, 1.1, .74, .9, .72, .82, .75, 1.0, .72, 1.15, .74, .85, .72, .92, .75, 1.0, .72, .82, .74, 1.05, .72, .88, .75, .95, .72, 1.1, .74, .85, .72, .9, .75, 1.2, .72, .85, .74, .95, .72, 1.05, .75, .9],
    [.8, .72, .95, .74, 1.05, .72, .85, .75, .92, .72, 1.1, .74, .82, .72, 1.0, .75, .88, .72, 1.15, .74, .85, .72, .95, .75, 1.0, .72, .82, .74, .9, .72, 1.05, .75, .85, .72, .95, .74, 1.0, .72, .88, .75, 1.0],
    [.9, .72, .85, .74, 1.05, .72, .82, .75, .95, .72, 1.0, .74, .85, .72, 1.1, .75, .88, .72, .92, .74, 1.0, .72, .82, .75, 1.05, .72, .9, .74, .85, .72, 1.0, .75, .92, .72, 1.1, .74, .85, .72, 1.0, .75, 1.1],
    [.85, .72, .95, .74, 1.0, .72, .82, .75, 1.2, .72, .88, .74, .92, .72, 1.0, .75, .85, .72, 1.05, .74, .82, .72, .95, .75, 1.1, .72, .85, .74, .9, .72, 1.0, .75, .88, .72, .95, .74, 1.0, .72, 1.1, .75, 1.15],
    [.8, .72, 1.0, .74, .85, .72, 1.1, .75, .82, .72, .92, .74, 1.05, .72, .85, .75, .95, .72, 1.0, .74, .82, .72, 1.1, .75, .88, .72, .95, .74, 1.0, .72, .85, .75, .9, .72, 1.05, .74, .82, .72, .95, .75, .9],
    [.85, .72, 1.0, .74, .9, .72, .82, .75, 1.05, .72, .88, .74, 1.1, .72, .85, .75, .95, .72, 1.0, .74, .82, .72, .92, .75, 1.05, .72, .85, .74, .95, .72, 1.0, .75, .82, .72, .9, .74, 1.05, .72, .85, .75, .88],
    [.9, .72, 1.05, .74, .82, .72, 1.0, .75, .88, .72, 1.1, .74, .85, .72, .95, .75, 1.0, .72, .82, .74, 1.05, .72, .9, .75, 1.15, .72, .85, .74, .95, .72, 1.0, .75, .82, .72, .92, .74, 1.0, .72, .85, .75, .82],
    [.8, .72, .85, .74, 1.0, .72, .9, .75, .82, .72, 1.05, .74, .88, .72, .95, .75, 1.0, .72, .82, .74, 1.1, .72, .85, .75, .92, .72, 1.0, .74, .85, .72, .95, .75, 1.05, .72, .82, .74, .9, .72, 1.0, .75, .85],
    [.85, .72, .9, .74, 1.05, .72, .82, .75, .95, .72, 1.0, .74, .85, .72, 1.1, .75, .82, .72, .95, .74, 1.0, .72, .88, .75, .92, .72, 1.05, .74, .85, .72, 1.0, .75, .9, .72, 1.05, .74, .85, .72, .95, .75, 1.1],
    [.8, .72, 1.0, .74, .85, .72, .9, .75, 1.05, .72, .82, .74, .95, .72, 1.0, .75, .85, .72, 1.1, .74, .82, .72, .95, .75, 1.0, .72, .88, .74, .92, .72, 1.05, .75, .85, .72, .95, .74, 1.0, .72, .82, .75, .9],
    [.85, .72, .95, .74, 1.0, .72, .85, .75, .9, .72, 1.05, .74, .82, .72, .95, .75, 1.0, .72, .88, .74, 1.1, .72, .85, .75, .9, .72, 1.0, .74, .82, .72, .95, .75, 1.05, .72, .85, .74, .9, .72, 1.0, .75, .85],
    [.9, .72, .85, .74, 1.05, .72, .82, .75, .95, .72, 1.1, .74, .85, .72, 1.0, .75, .82, .72, .92, .74, 1.05, .72, .88, .75, 1.0, .72, .85, .74, .95, .72, 1.1, .75, .82, .72, .9, .74, 1.0, .72, 1.1, .75, .85],
    [.8, .72, .95, .74, 1.05, .72, .85, .75, .9, .72, 1.0, .74, .82, .72, 1.05, .75, .88, .72, .95, .74, 1.0, .72, .85, .75, 1.1, .72, .82, .74, .95, .72, 1.0, .75, .9, .72, 1.05, .74, .85, .72, 1.0, .75, .85],
    [.85, .72, 1.0, .74, .9, .72, 1.05, .75, .82, .72, .95, .74, 1.1, .72, .85, .75, .92, .72, 1.0, .74, .82, .72, 1.05, .75, .95, .72, .88, .74, 1.0, .72, 1.2, .75, .85, .72, 1.05, .74, .9, .72, .95, .75, .8],
]
RL_LO = [
    [-.9, -.72, -1.0, -.74, -.82, -.72, -.95, -.75, -1.05, -.72, -.85, -.74, -1.1, -.72, -.88, -.75, -.95, -.72, -1.0, -.74, -.85, -.72, -.92, -.75, -1.3, -.72, -.88, -.74, -1.0, -.72, -.85, -.75, -.95, -.72, -1.05, -.74, -.82, -.72, -.9, -.75, -.8],
    [-.85, -.72, -.95, -.74, -1.05, -.72, -.85, -.75, -1.0, -.72, -.9, -.74, -1.1, -.72, -.85, -.75, -.95, -.72, -1.05, -.74, -.88, -.72, -1.0, -.75, -.85, -.72, -.95, -.74, -1.35, -.72, -.88, -.75, -1.0, -.72, -.85, -.74, -.95, -.72, -1.0, -.75, -.9],
    [-.95, -.72, -.85, -.74, -1.0, -.72, -.9, -.75, -1.05, -.72, -.85, -.74, -.95, -.72, -1.1, -.75, -.88, -.72, -1.0, -.74, -.85, -.72, -.95, -.75, -1.05, -.72, -.9, -.74, -1.0, -.72, -.85, -.75, -.95, -.72, -1.05, -.74, -.88, -.72, -.95, -.75, -.9],
    [-.8, -.72, -1.0, -.74, -.88, -.72, -.95, -.75, -1.05, -.72, -.85, -.74, -1.0, -.72, -.9, -.75, -1.1, -.72, -.85, -.74, -.95, -.72, -1.05, -.75, -.88, -.72, -1.0, -.74, -.85, -.72, -.95, -.75, -1.05, -.72, -.9, -.74, -1.0, -.72, -.85, -.75, -.9],
    [-.9, -.72, -.85, -.74, -1.05, -.72, -.95, -.75, -.88, -.72, -1.0, -.74, -.85, -.72, -1.1, -.75, -.9, -.72, -.95, -.74, -1.0, -.72, -.85, -.75, -1.05, -.72, -.9, -.74, -.95, -.72, -1.0, -.75, -.85, -.72, -1.05, -.74, -.9, -.72, -1.0, -.75, -.88],
    [-.85, -.72, -1.0, -.74, -.9, -.72, -1.05, -.75, -.85, -.72, -.95, -.74, -1.0, -.72, -1.1, -.75, -.88, -.72, -.95, -.74, -1.0, -.72, -.85, -.75, -1.05, -.72, -.9, -.74, -.95, -.72, -1.0, -.75, -.85, -.72, -1.05, -.74, -.9, -.72, -.95, -.75, -.85],
    [-.95, -.72, -.85, -.74, -1.0, -.72, -.9, -.75, -1.05, -.72, -.85, -.74, -1.0, -.72, -.9, -.75, -1.1, -.72, -.85, -.74, -.95, -.72, -1.0, -.75, -.88, -.72, -1.05, -.74, -.9, -.72, -.95, -.75, -1.0, -.72, -.85, -.74, -1.05, -.72, -.9, -.75, -.95],
    [-.85, -.72, -.95, -.74, -1.05, -.72, -.9, -.75, -1.0, -.72, -.85, -.74, -1.1, -.72, -.9, -.75, -1.0, -.72, -.85, -.74, -.95, -.72, -1.05, -.75, -.88, -.72, -1.0, -.74, -.9, -.72, -.95, -.75, -1.05, -.72, -.85, -.74, -1.0, -.72, -.9, -.75, -.85],
    [-.9, -.72, -1.05, -.74, -.85, -.72, -.95, -.75, -1.0, -.72, -.9, -.74, -1.1, -.72, -.85, -.75, -.95, -.72, -1.0, -.74, -.88, -.72, -1.05, -.75, -.9, -.72, -.95, -.74, -1.0, -.72, -.85, -.75, -1.05, -.72, -.9, -.74, -1.0, -.72, -.85, -.75, -.9],
    [-.8, -.72, -.95, -.74, -1.0, -.72, -.85, -.75, -1.05, -.72, -.9, -.74, -1.1, -.72, -.85, -.75, -.95, -.72, -1.0, -.74, -.9, -.72, -1.05, -.75, -.85, -.72, -.95, -.74, -1.0, -.72, -.9, -.75, -1.05, -.72, -.85, -.74, -.95, -.72, -1.0, -.75, -.85],
    [-.95, -.72, -.85, -.74, -1.05, -.72, -.9, -.75, -.95, -.72, -1.0, -.74, -.85, -.72, -1.05, -.75, -.9, -.72, -1.1, -.74, -.85, -.72, -.95, -.75, -1.0, -.72, -.9, -.74, -1.05, -.72, -.85, -.75, -.95, -.72, -1.0, -.74, -.9, -.72, -1.05, -.75, -.95],
    [-.85, -.72, -1.0, -.74, -.9, -.72, -.95, -.75, -1.05, -.72, -.85, -.74, -1.0, -.72, -.9, -.75, -1.1, -.72, -.85, -.74, -.95, -.72, -1.0, -.75, -.9, -.72, -1.05, -.74, -.85, -.72, -.95, -.75, -1.0, -.72, -.9, -.74, -1.05, -.72, -.85, -.75, -.9],
    [-.9, -.72, -.85, -.74, -1.0, -.72, -.95, -.75, -1.05, -.72, -.85, -.74, -1.1, -.72, -.9, -.75, -.95, -.72, -1.0, -.74, -.85, -.72, -1.05, -.75, -.9, -.72, -.95, -.74, -1.0, -.72, -.85, -.75, -1.05, -.72, -.95, -.74, -.9, -.72, -1.0, -.75, -1.0],
    [-.95, -.72, -.8, -.74, -1.05, -.72, -.85, -.75, -.9, -.72, -1.0, -.74, -.85, -.72, -1.1, -.75, -.9, -.72, -.95, -.74, -1.0, -.72, -.85, -.75, -1.05, -.72, -.9, -.74, -.95, -.72, -1.0, -.75, -.85, -.72, -1.05, -.74, -.9, -.72, -.95, -.75, -.95],
    [-.85, -.72, -.95, -.74, -.9, -.72, -1.0, -.75, -.8, -.72, -1.05, -.74, -.85, -.72, -.95, -.75, -1.0, -.72, -.9, -.74, -1.1, -.72, -.85, -.75, -.95, -.72, -1.0, -.74, -.9, -.72, -1.05, -.75, -.85, -.72, -.95, -.74, -1.0, -.72, -.9, -.75, -.85],
    [-.9, -.72, -1.0, -.74, -.85, -.72, -1.05, -.75, -.9, -.72, -.95, -.74, -1.1, -.72, -.85, -.75, -1.0, -.72, -.9, -.74, -.95, -.72, -1.05, -.75, -.85, -.72, -1.0, -.74, -.9, -.72, -.95, -.75, -1.05, -.72, -.85, -.74, -1.0, -.72, -.9, -.75, -1.0],
    [-.85, -.72, -.9, -.74, -1.05, -.72, -.85, -.75, -.95, -.72, -1.0, -.74, -.9, -.72, -1.05, -.75, -.85, -.72, -.95, -.74, -1.1, -.72, -.9, -.75, -1.0, -.72, -.85, -.74, -1.05, -.72, -.9, -.75, -.95, -.72, -1.0, -.74, -.85, -.72, -1.05, -.75, -.95],
    [-.95, -.72, -.85, -.74, -1.0, -.72, -.9, -.75, -1.05, -.72, -.85, -.74, -.95, -.72, -1.1, -.75, -.9, -.72, -1.0, -.74, -.85, -.72, -.95, -.75, -1.05, -.72, -.9, -.74, -1.0, -.72, -.85, -.75, -1.05, -.72, -.9, -.74, -.95, -.72, -1.0, -.75, -.9],
    [-.8, -.72, -1.0, -.74, -.9, -.72, -.85, -.75, -1.05, -.72, -.95, -.74, -.9, -.72, -1.0, -.75, -.85, -.72, -1.05, -.74, -.9, -.72, -.95, -.75, -1.0, -.72, -.85, -.74, -1.1, -.72, -.9, -.75, -.95, -.72, -1.0, -.74, -.85, -.72, -1.05, -.75, -.85],
    [-.9, -.72, -.85, -.74, -1.0, -.72, -.95, -.75, -.8, -.72, -1.05, -.74, -.9, -.72, -.85, -.75, -1.0, -.72, -.95, -.74, -.9, -.72, -1.05, -.75, -.85, -.72, -.95, -.74, -1.0, -.72, -.8, -.75, -1.05, -.72, -.9, -.74, -.95, -.72, -1.0, -.75, -.9],
]

# ---------------- styling / layout ----------------
W, H = 1224, 1583
FONT = "DejaVu Sans"
COL_LEFT = [55.5, 360.5, 666.5, 972.5]
COL_W = 243.5
ROW_TOP0, ROW_PITCH, ROW_H = 30.3, 75.5, 60.6
NOISE_YRANGE = [-1.5, 1.55]
X_RANGE = [-3, 1]

RED = "rgb(226,74,106)"
BLUE = "rgb(84,168,255)"
PURPLE = "#800080"
GREEN = "#008000"
BAND = "rgba(128,0,128,0.3)"
VL_BLUE = "#2a2ab8"
VL_RED = "#b22222"
VL_BLACK = "#222222"
SPINE = "#3a3a3a"

fig = go.Figure()
layout = dict(width=W, height=H, margin=dict(l=0, r=0, t=0, b=0, pad=0, autoexpand=False),
              paper_bgcolor="white", plot_bgcolor="white", showlegend=False,
              font=dict(family=FONT, size=18, color="black"))
shapes, annotations = [], []


def pad_range(vals):
    lo, hi = min(vals), max(vals)
    p = 0.05 * (hi - lo)
    return [lo - p, hi + p]


for r in range(20):
    for c in range(4):
        n = r * 4 + c + 1
        sfx = "" if n == 1 else str(n)
        xref, yref = "x" + sfx, "y" + sfx
        x0 = COL_LEFT[c] / W
        x1 = (COL_LEFT[c] + COL_W) / W
        top = ROW_TOP0 + r * ROW_PITCH
        ydom = [1 - (top + ROW_H) / H, 1 - top / H]

        if c in (0, 1):
            up = RH_UP[r] if c == 0 else RL_UP[r]
            lo = RH_LO[r] if c == 0 else RL_LO[r]
            colr = RED if c == 0 else BLUE
            tu = ENV_T[:len(up)]
            tl = ENV_T[:len(lo)]
            fig.add_trace(go.Scatter(x=tu + tl[::-1], y=up + lo[::-1], mode="lines",
                                     fill="toself", fillcolor=colr,
                                     line=dict(color=colr, width=0.8),
                                     xaxis=xref, yaxis=yref, hoverinfo="skip"))
            yrange = NOISE_YRANGE
            tv, tt = NOISE_TICKS, NOISE_TICKTEXT
        elif c == 2:
            d = D_HL[r]
            fig.add_trace(go.Scatter(x=T_BINS[:len(d)], y=d, mode="lines",
                                     line=dict(color=PURPLE, width=1.6),
                                     xaxis=xref, yaxis=yref, hoverinfo="skip"))
            shapes.append(dict(type="rect", xref=xref + " domain", yref=yref, x0=0, x1=1,
                               y0=BAND_LO[r], y1=BAND_HI[r], fillcolor=BAND,
                               line=dict(width=0), layer="below"))
            yrange = pad_range(d + [BAND_LO[r], BAND_HI[r]])
            tv, tt = D_TICKS[r], D_TICKTEXT[r]
        else:
            s = S_HL[r]
            fig.add_trace(go.Scatter(x=T_BINS[:len(s)], y=s, mode="lines",
                                     line=dict(color=GREEN, width=1.6),
                                     xaxis=xref, yaxis=yref, hoverinfo="skip"))
            yrange = pad_range(s)
            tv, tt = S_TICKS[r], S_TICKTEXT[r]

        for t, col in ((BLUE_T[r], VL_BLUE), (RED_T[r], VL_RED), (MERGER_T, VL_BLACK)):
            shapes.append(dict(type="line", xref=xref, yref=yref + " domain", x0=t, x1=t,
                               y0=0, y1=1, line=dict(color=col, width=1.5, dash="dot")))

        annotations.append(dict(text=EVENTS[r], xref=xref + " domain", yref=yref + " domain",
                                x=0.02, y=0.0, xanchor="left", yanchor="bottom", showarrow=False,
                                font=dict(family=FONT, size=19.5, color="rgba(105,105,105,0.85)",
                                          weight="bold")))

        xax = dict(domain=[x0, x1], anchor=yref, range=X_RANGE, tickvals=X_TICKS,
                   ticks="outside", ticklen=5, tickwidth=1, tickcolor=SPINE,
                   showline=True, mirror=True, linecolor=SPINE, linewidth=1,
                   showgrid=False, zeroline=False, showticklabels=(r == 19),
                   automargin=False, tickfont=dict(family=FONT, size=18))
        if r == 19:
            xax["title"] = dict(text=X_TITLE, font=dict(family=FONT, size=22), standoff=4)
        yax = dict(domain=ydom, anchor=xref, range=yrange, tickvals=tv, ticktext=tt,
                   ticks="outside", ticklen=5, tickwidth=1, tickcolor=SPINE,
                   showline=True, mirror=True, linecolor=SPINE, linewidth=1,
                   showgrid=False, zeroline=False, automargin=False,
                   tickfont=dict(family=FONT, size=18))
        layout["xaxis" + sfx] = xax
        layout["yaxis" + sfx] = yax

for c in range(4):
    annotations.append(dict(text=COL_TITLES[c], xref="paper", yref="paper",
                            x=(COL_LEFT[c] + COL_W / 2) / W, y=1 - 14 / H,
                            xanchor="center", yanchor="middle", showarrow=False,
                            font=dict(family=FONT, size=22, color="black")))

layout["shapes"] = shapes
layout["annotations"] = annotations
fig.update_layout(**layout)
# no toolbar; remove the browser's default 8px page margin so the figure sits at the window origin
fig.write_html("out.html", config={"displayModeBar": False},
               post_script="document.body.style.margin='0px';")
